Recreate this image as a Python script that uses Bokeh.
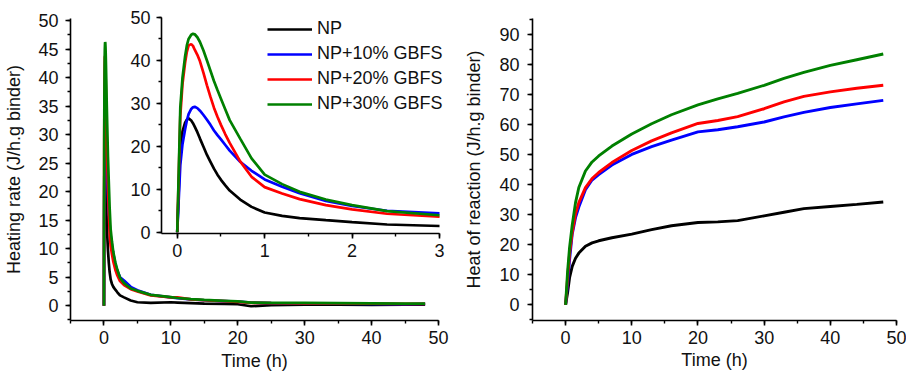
from bokeh.plotting import figure
from bokeh.models import Range1d, SingleIntervalTicker, Legend, LegendItem, GridBox
from bokeh.embed import file_html
from bokeh.resources import INLINE

# ---------------- data ----------------
series_names = ["NP", "NP+10% GBFS", "NP+20% GBFS", "NP+30% GBFS"]
series_colors = ["#000000", "#0000FF", "#FF0000", "#008000"]

rate_time = [0.0, 0.035, 0.06, 0.09, 0.11, 0.13, 0.16, 0.18, 0.2, 0.23, 0.26, 0.3,
             0.34, 0.38, 0.42, 0.46, 0.5, 0.55, 0.6, 0.72, 0.85, 1.0, 1.2, 1.4,
             1.7, 2.0, 2.4, 3.0, 4.0, 5.0, 7.0, 10.0, 11.0, 13.0, 15.0, 18.0,
             20.0, 22.0, 25.0, 30.0, 35.0, 40.0, 45.0, 48.0]
rate_np = [0.0, 20.0, 23.5, 25.5, 26.2, 26.5, 26.0, 25.4, 24.6, 23.3, 21.8, 19.9,
           18.0, 16.4, 14.8, 13.4, 12.2, 10.9, 9.7, 7.6, 5.9, 4.6, 3.8, 3.3,
           2.8, 2.35, 1.8, 1.45, 0.9, 0.6, 0.5, 0.6, 0.55, 0.45, 0.35, 0.3,
           0.25, -0.1, 0.1, 0.2, 0.2, 0.15, 0.2, 0.2]
rate_10 = [0.0, 15.6, 20.5, 24.0, 26.0, 27.5, 28.7, 29.1, 29.2, 28.9, 28.3, 27.3,
           26.2, 25.0, 23.7, 22.6, 21.6, 20.3, 19.0, 16.4, 14.3, 12.3, 10.6, 9.1,
           7.3, 6.1, 5.0, 4.4, 3.3, 2.7, 1.9, 1.45, 1.3, 1.1, 0.95, 0.8,
           0.7, 0.55, 0.45, 0.4, 0.35, 0.3, 0.25, 0.3]
rate_20 = [0.0, 27.0, 34.5, 39.5, 42.0, 43.5, 43.8, 43.4, 42.5, 41.3, 39.8, 37.1,
           34.2, 31.5, 29.0, 26.9, 25.0, 22.8, 20.8, 16.5, 12.9, 10.5, 9.0, 7.7,
           6.3, 5.3, 4.3, 3.6, 2.9, 2.5, 1.8, 1.45, 1.45, 1.1, 0.95, 0.8,
           0.65, 0.5, 0.45, 0.4, 0.4, 0.35, 0.3, 0.3]
rate_30 = [0.0, 29.0, 36.0, 41.0, 43.5, 45.0, 46.0, 46.2, 46.1, 45.4, 44.3, 42.3,
           40.0, 37.6, 35.2, 33.1, 31.1, 28.6, 26.1, 21.8, 17.2, 13.4, 11.2, 9.4,
           7.6, 6.3, 4.9, 3.95, 3.0, 2.6, 1.9, 1.5, 1.35, 1.15, 1.0, 0.85,
           0.75, 0.55, 0.5, 0.5, 0.45, 0.4, 0.35, 0.35]

heat_time = [0.0, 0.3, 0.6, 1.0, 1.5, 2.0, 3.0, 4.0, 5.0, 7.0, 10.0, 13.0, 16.0,
             20.0, 23.0, 26.0, 30.0, 33.0, 36.0, 40.0, 44.0, 48.0]
heat_np = [0.0, 4.0, 9.0, 12.8, 15.5, 17.2, 19.5, 20.6, 21.3, 22.3, 23.5, 25.0,
           26.3, 27.4, 27.6, 28.0, 29.6, 30.8, 32.0, 32.7, 33.4, 34.2]
heat_10 = [0.0, 7.0, 15.0, 23.5, 29.0, 32.5, 38.3, 41.5, 43.3, 46.5, 50.0, 52.6,
           54.8, 57.5, 58.2, 59.2, 60.8, 62.5, 64.0, 65.6, 66.8, 68.0]
heat_20 = [0.0, 9.0, 17.0, 24.0, 30.3, 34.0, 39.0, 42.0, 44.0, 47.3, 51.3, 54.5,
           57.2, 60.3, 61.3, 62.6, 65.2, 67.5, 69.3, 70.8, 72.0, 73.0]
heat_30 = [0.0, 11.0, 19.0, 26.5, 34.0, 39.0, 44.5, 47.5, 49.5, 52.8, 56.8, 60.2,
           63.2, 66.5, 68.5, 70.3, 73.0, 75.3, 77.3, 79.6, 81.5, 83.4]

rate_series = [rate_np, rate_10, rate_20, rate_30]
heat_series = [heat_np, heat_10, heat_20, heat_30]

FONT = "Liberation Sans"
FS = "18px"
TXT = "#111111"


def style(p, x_int, y_int, xlabel=None, ylabel=None, lab_standoff=7,
          title_standoff=9, xlab_standoff=5, xtitle_standoff=4):
    p.outline_line_color = None
    p.xgrid.grid_line_color = None
    p.ygrid.grid_line_color = None
    p.background_fill_color = None
    p.border_fill_color = None
    p.xaxis[0].ticker = SingleIntervalTicker(interval=x_int, num_minor_ticks=2)
    p.yaxis[0].ticker = SingleIntervalTicker(interval=y_int, num_minor_ticks=2)
    for ax in p.axis:
        ax.axis_line_width = 1.6
        ax.axis_line_color = "black"
        ax.major_tick_line_width = 1.6
        ax.minor_tick_line_width = 1.4
        ax.major_tick_line_color = "black"
        ax.minor_tick_line_color = "black"
        ax.major_tick_out = 5
        ax.major_tick_in = 0
        ax.minor_tick_out = 3
        ax.minor_tick_in = 0
        ax.major_label_text_font = FONT
        ax.major_label_text_font_size = FS
        ax.major_label_text_color = TXT
        ax.axis_label_text_font = FONT
        ax.axis_label_text_font_size = FS
        ax.axis_label_text_font_style = "normal"
        ax.axis_label_text_color = TXT
    p.xaxis[0].major_label_standoff = xlab_standoff
    p.xaxis[0].axis_label_standoff = xtitle_standoff
    p.yaxis[0].major_label_standoff = lab_standoff
    p.yaxis[0].axis_label_standoff = title_standoff
    if xlabel:
        p.xaxis[0].axis_label = xlabel
    if ylabel:
        p.yaxis[0].axis_label = ylabel


# ---------------- left main panel ----------------
p_rate = figure(width=452, height=374, output_backend="svg", toolbar_location=None,
                x_range=Range1d(-5, 50), y_range=Range1d(-2.6, 50.35),
                min_border_left=70, min_border_right=14, min_border_top=15,
                min_border_bottom=54)
style(p_rate, 10, 5, "Time (h)", "Heating rate (J/h.g binder)", 7, 11, 5, 4)

for ys, c in zip(rate_series, series_colors):
    p_rate.line(rate_time, ys, line_color=c, line_width=2.7)

# ---------------- inset ----------------
p_inset = figure(width=328, height=258, output_backend="svg", toolbar_location=None,
                 x_range=Range1d(-0.18, 3.0), y_range=Range1d(-0.3, 50.0),
                 min_border_left=40, min_border_right=10, min_border_top=10,
                 min_border_bottom=32)
style(p_inset, 1, 10, None, None, 6, 0, 5, 0)
for ys, c in zip(rate_series, series_colors):
    p_inset.line(rate_time, ys, line_color=c, line_width=2.7)

# ---------------- legend (overlay) ----------------
p_leg = figure(width=207, height=112, output_backend="svg", toolbar_location=None,
               x_axis_type=None, y_axis_type=None,
               x_range=Range1d(-5, 50), y_range=Range1d(-2.6, 50.35),
               min_border_left=2, min_border_right=0, min_border_top=7,
               min_border_bottom=0)
p_leg.outline_line_color = None
p_leg.xgrid.grid_line_color = None
p_leg.ygrid.grid_line_color = None
p_leg.background_fill_color = None
p_leg.border_fill_color = None
leg_renderers = []
for ys, c in zip(rate_series, series_colors):
    r = p_leg.line(rate_time, ys, line_color=c, line_width=2.7)
    r.visible = False
    leg_renderers.append(r)
legend = Legend(items=[LegendItem(label=n, renderers=[r])
                       for n, r in zip(series_names, leg_renderers)],
                location="top_left")
legend.border_line_color = None
legend.background_fill_alpha = 0
legend.inactive_fill_alpha = 0
legend.padding = 0
legend.margin = 0
legend.spacing = 4
legend.glyph_width = 45
legend.glyph_height = 20
legend.label_height = 20
legend.label_width = 140
legend.label_standoff = 5
legend.label_text_font = FONT
legend.label_text_font_size = FS
legend.label_text_color = TXT
p_leg.add_layout(legend)

# ---------------- right panel ----------------
p_heat = figure(width=454, height=374, output_backend="svg", toolbar_location=None,
                x_range=Range1d(-5, 50), y_range=Range1d(-5.2, 95.2),
                min_border_left=80, min_border_right=10, min_border_top=18,
                min_border_bottom=53)
style(p_heat, 10, 10, "Time (h)", "Heat of reaction (J/h.g binder)", 8, 12, 5, 3)
for ys, c in zip(heat_series, series_colors):
    p_heat.line(heat_time, ys, line_color=c, line_width=2.9)

layout = GridBox(children=[(p_rate, 0, 0, 4, 4),
                           (p_inset, 1, 1, 2, 2),
                           (p_leg, 0, 2, 2, 3),
                           (p_heat, 0, 4, 4, 2)],
                 rows=["7px", "105px", "153px", "109px"],
                 cols=["121px", "144px", "184px", "3px", "20px", "434px"],
                 spacing=0)

open("out.html", "w").write(file_html(layout, INLINE))
